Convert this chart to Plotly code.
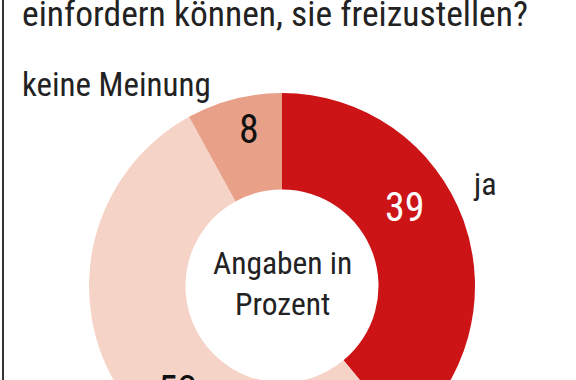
import plotly.graph_objects as go

# data
categories = ["ja", "nein", "keine Meinung"]
values = [39, 53, 8]
colors = ["#CC1417", "#F5D4C7", "#E8A188"]
title_text = "einfordern können, sie freizustellen?"
center_text = "Angaben in<br>Prozent"

W, H = 576, 480
FONT = "Roboto Condensed, Liberation Sans Narrow, DejaVu Sans Condensed, sans-serif"

cx, cy, r = 282, 286, 193

def px(x):
    return x / W

def py(y):
    return 1 - y / H

fig = go.Figure(go.Pie(
    labels=categories,
    values=values,
    marker=dict(colors=colors, line=dict(width=0)),
    hole=0.5,
    sort=False,
    direction="clockwise",
    rotation=0,
    textinfo="none",
    hoverinfo="label+value",
    showlegend=False,
    domain=dict(x=[px(cx - r), px(cx + r)], y=[py(cy + r), py(cy - r)]),
))

ann = []
def add(text, x, y, size=31, color="#222", xanchor="center"):
    ann.append(dict(text=text, x=px(x), y=py(y), xref="paper", yref="paper",
                    xanchor=xanchor, yanchor="middle", showarrow=False,
                    font=dict(family=FONT, size=size, color=color)))

add(title_text, 20, 14, size=35.5, xanchor="left")
add("keine Meinung", 20, 84, size=33, xanchor="left")
add("ja", 471, 184, size=32, xanchor="left")
add(str(values[0]), 405, 207, size=40, color="white")
add(str(values[2]), 249, 130, size=40, color="#111")
add(str(values[1]), 178, 390, size=40, color="#111")
ann.append(dict(text=center_text, x=px(cx), y=py(284), xref="paper", yref="paper",
                xanchor="center", yanchor="middle", showarrow=False,
                font=dict(family=FONT, size=31.5, color="#222")))

fig.update_layout(
    width=W, height=H,
    margin=dict(l=0, r=0, t=0, b=0),
    paper_bgcolor="white",
    plot_bgcolor="white",
    annotations=ann,
    shapes=[dict(type="line", xref="paper", yref="paper", x0=px(3), x1=px(3),
                 y0=0, y1=1, line=dict(color="#333", width=2))],
)

fig.write_html("out.html", config={"displayModeBar": False},
               post_script="document.body.style.margin='0';document.body.style.overflow='hidden';")
